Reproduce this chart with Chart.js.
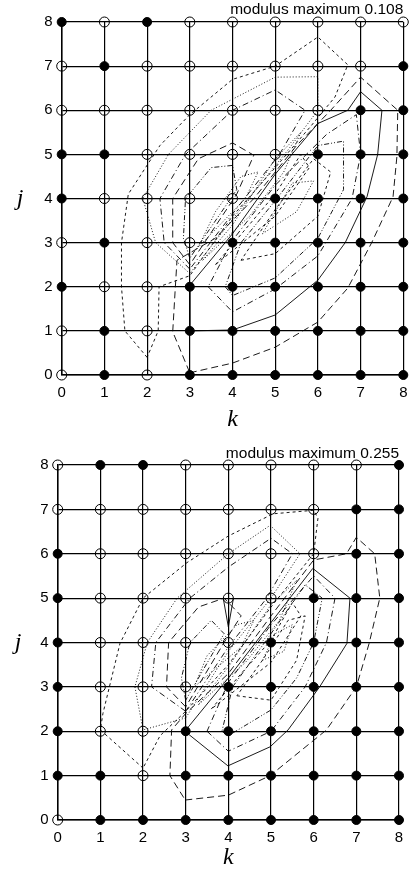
<!DOCTYPE html>
<html>
<head>
<meta charset="utf-8">
<script src="https://cdn.jsdelivr.net/npm/chart.js@4/dist/chart.umd.min.js"></script>
<style>
  html, body { margin: 0; padding: 0; background: #fff; }
  .box { position: absolute; left: 0; width: 411px; height: 437px; }
</style>
</head>
<body>
<div class="box" style="top:0"><canvas id="topChart" width="411" height="437"></canvas></div>
<div class="box" style="top:437px"><canvas id="bottomChart" width="411" height="437"></canvas></div>
<script>
// grid positions k = 0..8, j = 0..8
const kTicks = [0, 1, 2, 3, 4, 5, 6, 7, 8];
const jTicks = [0, 1, 2, 3, 4, 5, 6, 7, 8];

// marker rows from j = 8 down to j = 0 : 1 = filled dot, 0 = open circle
const topMarks = [
  [1, 0, 1, 0, 0, 0, 0, 0, 0],
  [0, 1, 0, 0, 0, 0, 0, 0, 1],
  [0, 0, 0, 0, 0, 0, 0, 1, 1],
  [1, 1, 0, 0, 0, 0, 1, 1, 1],
  [1, 0, 0, 0, 0, 1, 1, 1, 1],
  [0, 1, 0, 0, 1, 1, 1, 1, 1],
  [1, 0, 0, 1, 1, 1, 1, 1, 1],
  [0, 1, 0, 1, 1, 1, 1, 1, 1],
  [0, 1, 0, 1, 1, 1, 1, 1, 1]
];
const bottomMarks = [
  [0, 1, 1, 0, 0, 0, 0, 0, 1],
  [0, 0, 0, 0, 0, 0, 0, 1, 1],
  [1, 0, 0, 0, 0, 0, 0, 1, 1],
  [1, 0, 0, 0, 0, 0, 1, 1, 1],
  [1, 0, 0, 0, 0, 1, 1, 1, 1],
  [1, 0, 0, 0, 1, 1, 1, 1, 1],
  [1, 0, 0, 1, 1, 1, 1, 1, 1],
  [1, 1, 0, 1, 1, 1, 1, 1, 1],
  [0, 1, 1, 1, 1, 1, 1, 1, 1]
];

const topTitle = "modulus maximum 0.108";
const bottomTitle = "modulus maximum 0.255";

// contour lines, [k, j] pairs
const topSolid = [[3,2],[3,1],[4,1.02],[5,1.36],[6,2.15],[6.64,3],[7.15,4.04],[7.4,5],[7.5,6],[7,6.42],[6.7,6],[6,5.7],[5,4.55],[4,3.2],[3.04,2.08]];
const topLongDash = [[3,0.05],[4,0.27],[5,0.63],[6,1.2],[6.7,1.97],[7.26,3],[7.76,4.04],[7.85,4.95],[7.87,6],[7,6.75],[6.3,6],[5.5,5.2],[4.5,4],[3.6,3.1],[2.7,2.6],[2.66,1.97],[2.6,0.98],[3,0.05]];
const topShortDash = [[2,0.4],[1.48,1],[1.4,2],[1.4,3],[1.56,4.1],[2.3,5.2],[3,5.9],[4,6.7],[5,7],[6,7.66],[6.7,7.03],[6.4,6.3],[5.8,5.6],[5,4.7],[4,3.6],[3,2.25],[2.28,2],[2.26,1],[2,0.4]];
const topDotted = [[3,2.3],[2.2,3],[1.9,4],[2.5,5],[3.5,6],[5,6.75],[6,6.76],[6,6],[5.3,5.1],[4.3,3.9],[3,2.3]];
const topDashDotUp = [[3,2.4],[2.4,3],[2.3,4],[2.9,5],[4,6],[5,6.46],[5.7,6],[5.1,5],[4.2,3.9],[3,2.4]];
const topDashUp = [[3,2.5],[2.6,3],[2.6,4],[3.2,4.9],[4,5.26],[4.5,4.98],[4.1,4.1],[3,2.5]];
const topDashDotDotUp = [[3,2.65],[2.85,3.1],[2.9,4],[3.5,4.7],[4,4.75],[4.1,4.2],[3,2.65]];
const topRidgeUp = [[3.2,2.9],[3.6,3.7],[4.2,4.5],[4.6,4.6],[4.3,4],[3.2,2.9]];
const topDashDotLow = [[3.43,2],[4,1.43],[5,1.95],[6,2.7],[6.8,4],[7,5],[6.9,5.9],[6.2,5.45],[5,4.3],[4,3.05],[3.43,2]];
const topDashDotLow2 = [[3.83,2],[4,1.8],[5,2.2],[6,3.1],[6.6,4.2],[6.6,5.3],[6,5.2],[5,3.95],[4.2,3],[3.83,2]];
const topShortLow = [[4.2,2.6],[5,2.75],[6,3.6],[6.3,4.6],[5.9,4.9],[5,3.75],[4.2,2.6]];
const topDotLow = [[4.7,3.2],[5.5,3.7],[5.9,4.4],[5.4,4.35],[4.7,3.2]];
const topRidgeDot = [[3.3,2.6],[4,3.4],[4.6,4.3],[5,4.9],[5.6,5.5],[5.2,4.6],[4.4,3.6],[3.3,2.6]];
const topRidgeShort = [[3.6,2.5],[4.3,3.3],[5,4.1],[5.6,5],[5.8,4.7],[5,3.6],[3.6,2.5]];

const bottomSolid = [[2.98,2],[3.99,1.22],[4.98,1.65],[5.4,2.03],[6.14,3],[6.78,3.98],[6.85,5],[5.98,5.67],[5,4.45],[4,3.2],[2.98,2]];
const bottomSolidSmall = [[3.88,5],[4,4.35],[4.12,5]];
const bottomLongDash = [[2.99,0.45],[4,0.56],[4.98,1],[6.3,2.03],[7,3],[7.3,3.98],[7.55,5],[7.43,6],[7,6.37],[6.77,6],[6,5.86],[5,4.6],[4,3.3],[3,2.4],[2.67,2.03],[2.63,1],[2.99,0.45]];
const bottomShortDash = [[2,1.17],[1,2.03],[1.06,2.4],[1.46,3.98],[2,5],[3.03,5.8],[4,6.4],[5.05,6.9],[6,6.98],[6.1,6.8],[6,6],[5,4.8],[4,3.5],[3,2.45],[2.4,1.9],[2,1.17]];
const bottomDotted = [[3,2.3],[2,2.03],[1.81,3],[2.1,4],[2.8,5],[4,6],[4.98,6.64],[5.68,6],[5,5],[4,3.8],[3,2.3]];
const bottomDashDotUp = [[3,2.45],[2.2,3],[2.3,4],[3.1,5],[4,5.7],[5,6.35],[5.5,6],[4.9,5],[4,3.9],[3,2.45]];
const bottomDashUp = [[3,2.55],[2.55,3],[2.6,4],[3.3,4.8],[3.9,5],[4.3,4.6],[3.9,4],[3,2.55]];
const bottomDashDotDotUp = [[3,2.7],[2.9,3.2],[3.1,4],[3.6,4.5],[3.9,4.2],[3,2.7]];
const bottomRidgeUp = [[3.2,3],[3.5,3.7],[4.2,4.4],[4.6,4.5],[4.3,3.9],[3.2,3]];
const bottomDashDotLow = [[3.5,2],[4,1.55],[5,2],[5.8,3],[6.3,4],[6.5,5],[6,5.5],[5,4.4],[4,3.1],[3.5,2]];
const bottomDashDotLow2 = [[3.85,2],[4,1.9],[5,2.48],[5.6,3.2],[6,4],[6.2,5],[5.8,5.3],[5,4.2],[4.1,3],[3.85,2]];
const bottomShortLow = [[4.2,2.8],[5,2.7],[5.6,3.6],[5.8,4.6],[5.4,4.5],[4.8,3.6],[4.2,2.8]];
const bottomDotLow = [[4.8,3.6],[5.3,3.8],[5.5,4.4],[5.1,4.2],[4.8,3.6]];
const bottomRidgeDot = [[3.3,2.6],[4,3.45],[4.6,4.3],[5,4.85],[5.6,5.4],[5.2,4.5],[4.4,3.55],[3.3,2.6]];
const bottomRidgeShort = [[3.6,2.5],[4.3,3.3],[5,4.05],[5.5,4.9],[5.7,4.6],[5,3.55],[3.6,2.5]];

const SOLID = [];
const LONG = [7, 4];
const SHORT = [3, 3];
const DOT = [1, 2];
const DASHDOT = [6, 3, 1, 3];
const DASHDOTDOT = [5, 2, 1, 2, 1, 2];

const topLines = [
  [topSolid, SOLID], [topLongDash, LONG], [topShortDash, SHORT], [topDotted, DOT],
  [topDashDotUp, DASHDOT], [topDashUp, LONG], [topDashDotDotUp, DASHDOTDOT], [topRidgeUp, DOT],
  [topDashDotLow, DASHDOT], [topDashDotLow2, DASHDOTDOT], [topShortLow, SHORT], [topDotLow, DOT],
  [topRidgeDot, DOT], [topRidgeShort, SHORT]
];
const bottomLines = [
  [bottomSolid, SOLID], [bottomSolidSmall, SOLID], [bottomLongDash, LONG], [bottomShortDash, SHORT],
  [bottomDotted, DOT], [bottomDashDotUp, DASHDOT], [bottomDashUp, LONG], [bottomDashDotDotUp, DASHDOTDOT],
  [bottomRidgeUp, DOT], [bottomDashDotLow, DASHDOT], [bottomDashDotLow2, DASHDOTDOT], [bottomShortLow, SHORT],
  [bottomDotLow, DOT], [bottomRidgeDot, DOT], [bottomRidgeShort, SHORT]
];

function markerPoints(rows, want) {
  const pts = [];
  rows.forEach((row, r) => {
    const j = jTicks[jTicks.length - 1 - r];
    row.forEach((v, i) => {
      if (v === want) pts.push({ x: kTicks[i], y: j });
    });
  });
  return pts;
}

const jLabel = {
  id: "jLabel",
  afterDraw(chart, args, opts) {
    const ctx = chart.ctx;
    const y = chart.scales.y.getPixelForValue(4);
    ctx.save();
    ctx.font = "italic 24px 'Liberation Serif', serif";
    ctx.fillStyle = "#000";
    ctx.textAlign = "center";
    ctx.textBaseline = "middle";
    ctx.fillText("j", opts.x, y);
    ctx.restore();
  }
};

function makeChart(id, marks, lines, title, geo) {
  const datasets = [
    {
      data: markerPoints(marks, 1),
      pointRadius: 4.5,
      pointBackgroundColor: "#000",
      pointBorderColor: "#000",
      pointBorderWidth: 1,
      showLine: false,
      clip: false
    },
    {
      data: markerPoints(marks, 0),
      pointRadius: 5,
      pointBackgroundColor: "rgba(0,0,0,0)",
      pointBorderColor: "#000",
      pointBorderWidth: 1,
      showLine: false,
      clip: false
    }
  ];
  for (const [pts, dash] of lines) {
    datasets.push({
      data: pts.map(p => ({ x: p[0], y: p[1] })),
      showLine: true,
      borderColor: "#000",
      borderWidth: 0.9,
      borderDash: dash,
      pointRadius: 0,
      tension: 0,
      fill: false,
      clip: false
    });
  }

  const tickFont = { family: "'Liberation Sans', Arial, sans-serif", size: 15 };

  return new Chart(document.getElementById(id), {
    type: "scatter",
    data: { datasets },
    options: {
      responsive: false,
      animation: false,
      events: [],
      layout: { padding: { left: 0, right: geo.right, top: geo.top, bottom: 0 } },
      plugins: {
        legend: { display: false },
        tooltip: { enabled: false },
        title: {
          display: true,
          text: title,
          align: "end",
          color: "#000",
          font: { family: "'Liberation Sans', Arial, sans-serif", size: 15.5, weight: "normal" },
          padding: { top: 0, bottom: geo.titleGap }
        },
        jLabel: { x: geo.jx }
      },
      scales: {
        x: {
          type: "linear",
          min: 0,
          max: 8,
          afterBuildTicks: s => { s.ticks = kTicks.map(v => ({ value: v })); },
          afterFit: s => {
            s.height = geo.xHeight;
            s.paddingLeft = 4;
            s.paddingRight = 4;
          },
          ticks: { color: "#000", font: tickFont, padding: 9 },
          grid: { color: "#000", lineWidth: 1.2, drawTicks: false },
          border: { color: "#000", width: 1.5 },
          title: {
            display: true,
            text: "k",
            color: "#000",
            font: { family: "'Liberation Serif', serif", style: "italic", size: 24 },
            padding: { top: 0, bottom: geo.kGap }
          }
        },
        y: {
          type: "linear",
          min: 0,
          max: 8,
          afterBuildTicks: s => { s.ticks = jTicks.map(v => ({ value: v })); },
          afterFit: s => { s.width = geo.yWidth; },
          ticks: { color: "#000", font: tickFont, padding: 9 },
          grid: { color: "#000", lineWidth: 1.2, drawTicks: false },
          border: { color: "#000", width: 1.5 }
        }
      }
    },
    plugins: [jLabel]
  });
}

makeChart("topChart", topMarks, topLines, topTitle,
  { right: 7.7, top: 0, titleGap: 3.4, xHeight: 62, yWidth: 61.7, kGap: 3, jx: 20 });
makeChart("bottomChart", bottomMarks, bottomLines, bottomTitle,
  { right: 12, top: 7, titleGap: 2.4, xHeight: 54, yWidth: 57.7, kGap: 1.5, jx: 18 });
</script>
</body>
</html>
